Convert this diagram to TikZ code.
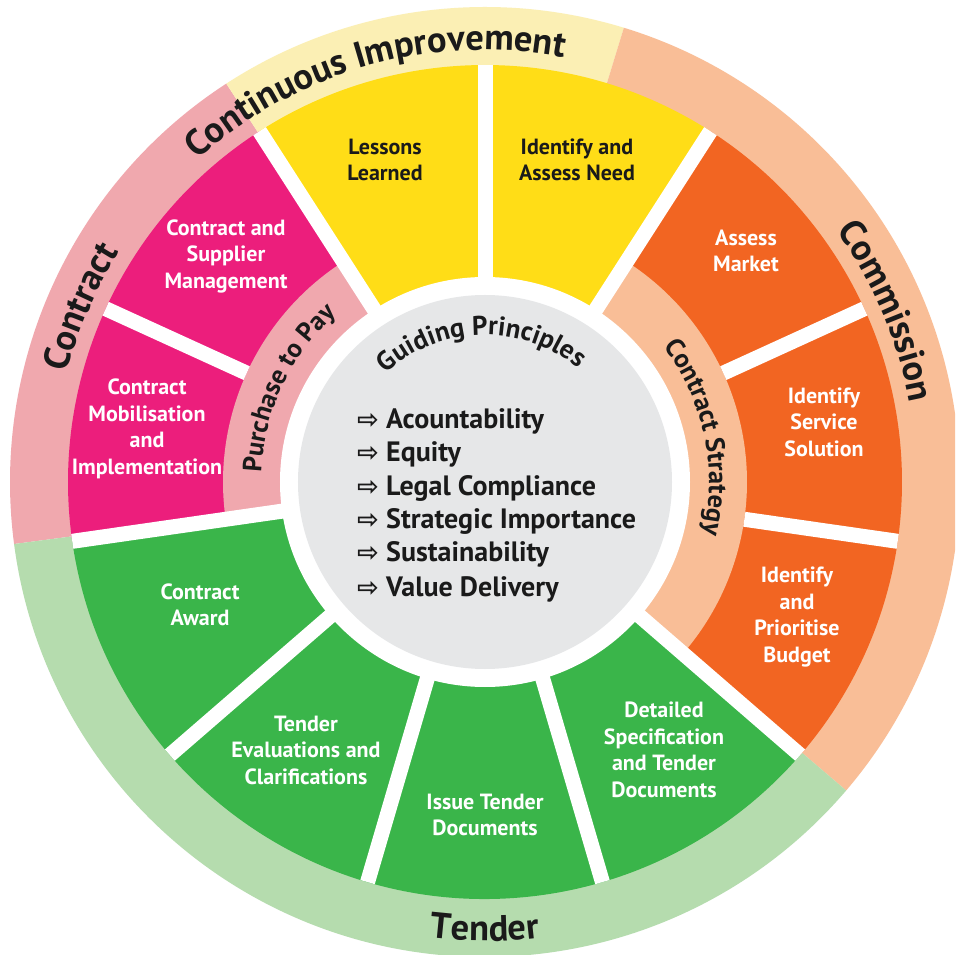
\documentclass[tikz,border=0pt]{standalone}
\usepackage{fontspec}
\setmainfont{PT Sans}
\newfontfamily\symfont{DejaVu Sans}
\usetikzlibrary{decorations.text}
\definecolor{cYel}{HTML}{FFDD17}
\definecolor{cYelL}{HTML}{FBEFB4}
\definecolor{cOra}{HTML}{F26522}
\definecolor{cOraL}{HTML}{F9BE97}
\definecolor{cGrn}{HTML}{3AB54A}
\definecolor{cGrnL}{HTML}{B5DCAE}
\definecolor{cMag}{HTML}{EC1E7C}
\definecolor{cMagL}{HTML}{F0A8AE}
\definecolor{cGry}{HTML}{E6E7E8}
\definecolor{cInk}{HTML}{1A1A1A}
\newcommand\bandfont{\bfseries\fontsize{36.5}{40}\selectfont}
\newcommand\innerfont{\bfseries\fontsize{26.5}{30}\selectfont}
\newcommand\guidefont{\bfseries\fontsize{27}{30}\selectfont}
\newcommand\segfont{\bfseries\fontsize{22}{26.5}\selectfont}
\newcommand\prinfont{\bfseries\fontsize{28}{30}\selectfont}
\newcommand\arrowglyph{{\symfont\bfseries\fontsize{26}{26}\selectfont ⇨}}
\newcommand\wedgefill[4]{\fill[#1] (0,0) -- (#2:#4) arc[start angle=#2, end angle=#3, radius=#4] -- cycle;}
\begin{document}
\begin{tikzpicture}[x=1pt,y=1pt,
  seg/.style={align=center,font=\segfont,inner sep=0pt},
  prin/.style={anchor=base west,font=\prinfont,inner sep=0pt,text=cInk},
  sep/.style={white,line width=15pt}]
\useasboundingbox (-485,-473) rectangle (470,482);
\clip (-485,-473) rectangle (470,482);
\fill[white] (-485,-473) rectangle (470,482);
% outer bands
\wedgefill{cMagL}{123}{187.5}{475pt}
\wedgefill{cYelL}{73}{123}{475pt}
\wedgefill{cOraL}{-40.5}{73}{475pt}
\wedgefill{cGrnL}{187.5}{319.5}{475pt}
% segments
\wedgefill{cYel}{57.27}{122.73}{417pt}
\wedgefill{cOra}{-40.91}{57.27}{417pt}
\wedgefill{cGrn}{-171.82}{-40.91}{417pt}
\wedgefill{cMag}{122.73}{188.18}{417pt}
% inner bands
\wedgefill{cOraL}{-40.91}{57.27}{262pt}
\wedgefill{cMagL}{122.73}{188.18}{262pt}
% separators
\foreach \a in {90,57.27,-40.91,-73.64,-106.36,-139.09,-171.82,122.73}
  \draw[sep] (0,0) -- (\a:417pt);
\foreach \a in {24.55,-8.18,155.45}
  \draw[sep] (\a:262pt) -- (\a:417pt);
\fill[white] (0,0) circle[radius=205pt];
\fill[cGry] (0,0) circle[radius=187pt];
% curved labels
\path[decorate,decoration={text along path,text align=center,text={|\bandfont\color{cInk}|Continuous Improvement}}]
  (175.6:432pt) arc[start angle=175.6,end angle=35.6,radius=432pt];
\path[decorate,decoration={text along path,text align=center,text={|\bandfont\color{cInk}|Commission}}]
  (83:432pt) arc[start angle=83,end angle=-37,radius=432pt];
\path[decorate,decoration={text along path,text align=center,text={|\bandfont\color{cInk}|Contract}}]
  (216.6:432pt) arc[start angle=216.6,end angle=96.6,radius=432pt];
\path[decorate,decoration={text along path,text align=center,text={|\bandfont\color{cInk}|Tender}}]
  (-160:459pt) arc[start angle=-160,end angle=-20,radius=459pt];
\path[decorate,decoration={text along path,text align=center,text={|\innerfont\color{cInk}|Purchase to Pay}}]
  (214.5:224pt) arc[start angle=214.5,end angle=94.5,radius=224pt];
\path[decorate,decoration={text along path,text align=center,text={|\innerfont\color{cInk}|Contract Strategy}}]
  (71.9:224pt) arc[start angle=71.9,end angle=-48.1,radius=224pt];
\path[decorate,decoration={text along path,text align=center,text={|\guidefont\color{cInk}|Guiding Principles}}]
  (161.5:147pt) arc[start angle=161.5,end angle=21.5,radius=147pt];
% segment labels
\node[seg,text=cInk] (lessons) at (-100,322) {Lessons\\Learned};
\node[seg,text=cInk] (need) at (92,322) {Identify and\\Assess Need};
\node[seg,text=white] (market) at (261,231) {Assess\\Market};
\node[seg,text=white] (service) at (339,60) {Identify\\Service\\Solution};
\node[seg,text=white] (budget) at (312,-135) {Identify\\and\\Prioritise\\Budget};
\node[seg,text=white] (spec) at (179,-268) {Detailed\\Specification\\and Tender\\Documents};
\node[seg,text=white] (issue) at (0,-333) {Issue Tender\\Documents};
\node[seg,text=white] (evalu) at (-179,-268) {Tender\\Evaluations and\\Clarifications};
\node[seg,text=white] (award) at (-285,-123) {Contract\\Award};
\node[seg,text=white] (mobil) at (-338,53) {Contract\\Mobilisation\\and\\Implementation};
\node[seg,text=white] (supplier) at (-259,226) {Contract and\\Supplier\\Management};
% principles
\node[prin] (p1) at (-128,53) {\makebox[29pt][l]{\arrowglyph}Acountability};
\node[prin] (p2) at (-128,20) {\makebox[29pt][l]{\arrowglyph}Equity};
\node[prin] (p3) at (-128,-14) {\makebox[29pt][l]{\arrowglyph}Legal Compliance};
\node[prin] (p4) at (-128,-47) {\makebox[29pt][l]{\arrowglyph}Strategic Importance};
\node[prin] (p5) at (-128,-80) {\makebox[29pt][l]{\arrowglyph}Sustainability};
\node[prin] (p6) at (-128,-114) {\makebox[29pt][l]{\arrowglyph}Value Delivery};
\end{tikzpicture}
\end{document}
